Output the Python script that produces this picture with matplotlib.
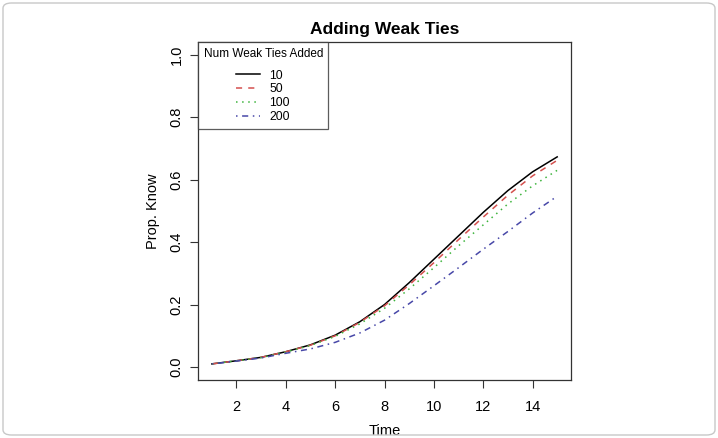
import matplotlib
matplotlib.use("Agg")
import matplotlib.pyplot as plt
from matplotlib.lines import Line2D
from matplotlib.patches import FancyBboxPatch

time = list(range(1, 16))
ties_10 = [0.010, 0.020, 0.031, 0.049, 0.071, 0.102, 0.145, 0.200, 0.270, 0.345, 0.420, 0.495, 0.565, 0.625, 0.673]
ties_50 = [0.010, 0.020, 0.031, 0.049, 0.070, 0.100, 0.143, 0.196, 0.263, 0.334, 0.408, 0.480, 0.550, 0.612, 0.662]
ties_100 = [0.010, 0.020, 0.030, 0.048, 0.069, 0.098, 0.138, 0.188, 0.250, 0.318, 0.388, 0.455, 0.522, 0.580, 0.630]
ties_200 = [0.010, 0.019, 0.029, 0.044, 0.058, 0.079, 0.109, 0.150, 0.203, 0.260, 0.318, 0.377, 0.434, 0.493, 0.547]
series_labels = ["10", "50", "100", "200"]
title = "Adding Weak Ties"
legend_title = "Num Weak Ties Added"
xticks = [2, 4, 6, 8, 10, 12, 14]
yticks = [0.0, 0.2, 0.4, 0.6, 0.8, 1.0]

colors = ["black", "#D4504E", "#3DB43D", "#4848A8"]
styles = ["-", (0, (4, 4)), (0, (1, 3)), (0, (1, 3, 4, 3))]

plt.rcParams['font.family'] = ['Liberation Sans', 'DejaVu Sans']
fig = plt.figure(figsize=(7.18, 4.38), dpi=100)
fig.patches.append(FancyBboxPatch((3/718, 3/438), 712/718, 432/438,
                                  boxstyle="round,pad=0,rounding_size=0.012",
                                  transform=fig.transFigure, facecolor='none',
                                  edgecolor='#C8C8C8', linewidth=1.0))
ax = fig.add_axes([198/718, 1-379.5/438, (571-198)/718, (379.5-42.3)/438])

series = [ties_10, ties_50, ties_100, ties_200]
handles = []
for ys, c, ls, lab in zip(series, colors, styles, series_labels):
    ax.plot(time, ys, color=c, linestyle=ls, linewidth=1.1)
    handles.append(Line2D([], [], color=c, linestyle=ls, linewidth=1.1, label=lab))

ax.set_xlim(1 - 0.56, 15 + 0.56)
ax.set_ylim(-0.04, 1.04)
ax.set_xticks(xticks)
ax.set_yticks(yticks)
ax.set_xticklabels([str(x) for x in xticks], fontsize=10.5)
ax.set_yticklabels([f"{y:.1f}" for y in yticks], fontsize=10.5, rotation=90, va='center')
ax.tick_params(axis='x', length=6, width=0.8, pad=9, colors='#333333', labelcolor='black')
ax.tick_params(axis='y', length=6, width=0.8, pad=4.5, colors='#333333', labelcolor='black')
for sp in ax.spines.values():
    sp.set_linewidth(0.9)
    sp.set_color('#333333')
ax.set_xlabel("Time", fontsize=10.5)
ax.xaxis.set_label_coords(0.5, -0.132)
ax.set_ylabel("Prop. Know", fontsize=10.5)
ax.yaxis.set_label_coords(-0.103, 0.5)
ax.set_title(title, fontsize=12.5, fontweight='bold', pad=6)

leg = ax.legend(handles=handles, title=legend_title, loc='upper left',
                bbox_to_anchor=(0, 1), borderaxespad=0, fontsize=8.8,
                title_fontsize=8.5, frameon=True, fancybox=False,
                handlelength=1.9, handletextpad=0.8, labelspacing=0.15,
                borderpad=0.45)
leg._legend_box.sep = 7
leg.get_frame().set_edgecolor('#333333')
leg.get_frame().set_linewidth(0.9)

fig.savefig("out.png", dpi=100)
